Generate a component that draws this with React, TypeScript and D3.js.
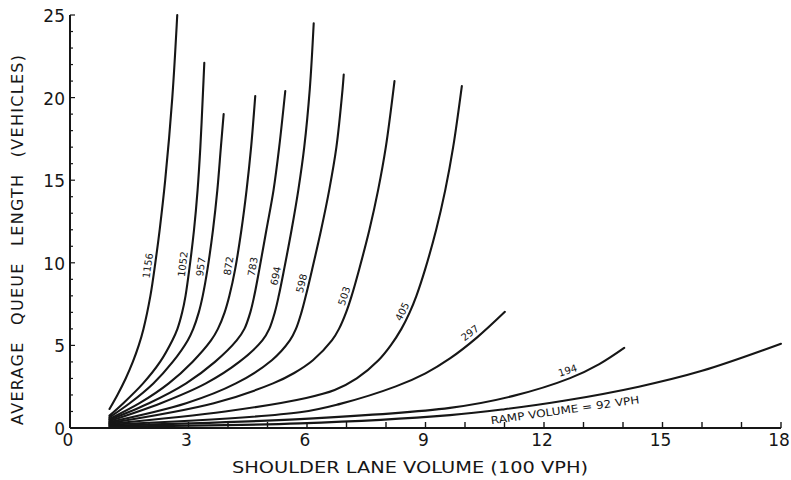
import React from "react";
import * as d3 from "d3";

// Shoulder lane volume (100 vph) vs. average queue length (vehicles), one curve per ramp volume
const xTickValues = [0, 3, 6, 9, 12, 15, 18];
const yTickValues = [0, 5, 10, 15, 20, 25];
const rampVolumes = [1156, 1052, 957, 872, 783, 694, 598, 503, 405, 297, 194, 92];

type Pt = [number, number];
const ramp1156: Pt[] = [[1.0, 1.15], [1.2, 2], [1.41, 3], [1.59, 4], [1.74, 5], [1.86, 6], [2.035, 8], [2.16, 10], [2.27, 12], [2.41, 15], [2.59, 20], [2.715, 25]];
const ramp1052: Pt[] = [[1.0, 0.75], [1.35, 1.5], [1.85, 2.7], [2.28, 4], [2.59, 5.3], [2.72, 6], [2.84, 7], [2.925, 8], [3.02, 9.6], [3.14, 12], [3.23, 14.4], [3.3, 17], [3.37, 20.5], [3.4, 22.1]];
const ramp957: Pt[] = [[1.0, 0.65], [1.51, 1.5], [2.11, 2.7], [2.6, 4], [2.98, 5.3], [3.12, 6], [3.26, 7], [3.36, 8], [3.48, 9.6], [3.62, 12], [3.73, 14.4], [3.82, 17], [3.89, 19]];
const ramp872: Pt[] = [[1.0, 0.55], [1.76, 1.5], [2.5, 2.7], [3.1, 4], [3.57, 5.3], [3.745, 6], [3.915, 7], [4.035, 8], [4.18, 9.6], [4.34, 12], [4.47, 14.4], [4.585, 17], [4.69, 20.1]];
const ramp783: Pt[] = [[1.0, 0.5], [2.0, 1.5], [2.94, 2.7], [3.67, 4], [4.22, 5.3], [4.415, 6], [4.565, 7], [4.665, 8], [4.793, 9.6], [4.973, 12], [5.153, 14.4], [5.296, 17], [5.45, 20.4]];
const ramp694: Pt[] = [[1.0, 0.42], [2.3, 1.5], [3.44, 2.7], [4.285, 4], [4.87, 5.3], [5.045, 6], [5.185, 7], [5.285, 8], [5.42, 9.6], [5.61, 12], [5.78, 14.4], [5.93, 17], [6.07, 20.5], [6.17, 24.5]];
const ramp598: Pt[] = [[1.0, 0.36], [2.94, 1.5], [4.2, 2.7], [5.11, 4.1], [5.566, 5.3], [5.72, 6], [5.86, 7], [5.97, 8], [6.13, 9.6], [6.358, 12], [6.562, 14.4], [6.744, 17], [6.9, 20.5], [6.93, 21.4]];
const ramp503: Pt[] = [[1.0, 0.3], [3.64, 1.5], [5.14, 2.7], [5.676, 3.33], [6.15, 4.1], [6.63, 5.3], [6.81, 6], [6.99, 7], [7.13, 8], [7.32, 9.6], [7.58, 12], [7.8, 14.4], [7.995, 17], [8.215, 21]];
const ramp405: Pt[] = [[1.0, 0.25], [3.93, 1.0], [5.98, 1.82], [6.7, 2.3], [7.26, 3], [7.81, 4.1], [8.12, 5], [8.39, 6], [8.6, 7], [8.77, 8], [8.99, 9.6], [9.27, 12], [9.5, 14.4], [9.7, 17], [9.92, 20.7]];
const ramp297: Pt[] = [[1.0, 0.2], [5.82, 0.95], [6.84, 1.46], [8.25, 2.52], [9.0, 3.31], [9.62, 4.21], [10.3, 5.47], [11.01, 7.03]];
const ramp194: Pt[] = [[1.0, 0.15], [5.82, 0.54], [9.62, 1.22], [11.2, 1.93], [12.66, 3.02], [13.4, 3.87], [14.03, 4.85]];
const ramp92: Pt[] = [[1.0, 0.09], [5.82, 0.28], [9.62, 0.78], [11.0, 1.135], [12.5, 1.645], [14.4, 2.5], [16.0, 3.46], [18.0, 5.1]];

const curves = [ramp1156, ramp1052, ramp957, ramp872, ramp783, ramp694, ramp598, ramp503, ramp405, ramp297, ramp194, ramp92];

// where along each curve (shoulder volume) its label sits, and on which side
const labelX = [2.145, 3.033, 3.486, 4.19, 4.8, 5.38, 6.036, 7.11, 8.57, 10.25, 12.66, 12.5];
const labelOffset = [7, 7, 7, 7, 7, 7, 7, 7, 7, 8, 8, -9];

const W = 791;
const H = 480;
const INK = "#161616";
const FONT = "'DejaVu Sans', 'Liberation Sans', sans-serif";

export default function App() {
  const x = d3.scaleLinear().domain([0, 18]).range([70, 781]);
  const y = d3.scaleLinear().domain([0, 25]).range([428, 15]);

  const line = d3
    .line<Pt>()
    .x((d) => x(d[0]))
    .y((d) => y(d[1]))
    .curve(d3.curveCatmullRom.alpha(0.5));

  const minorX = d3.range(1, 19);
  const minorY = d3.range(1, 26);

  const placeLabel = (pts: Pt[], xv: number, off: number) => {
    let i = 0;
    while (i < pts.length - 2 && pts[i + 1][0] < xv) i++;
    const [a, b] = [pts[i], pts[i + 1]];
    const t = (xv - a[0]) / (b[0] - a[0]);
    const px = x(a[0]) + t * (x(b[0]) - x(a[0]));
    const py = y(a[1]) + t * (y(b[1]) - y(a[1]));
    const dx = x(b[0]) - x(a[0]);
    const dy = y(b[1]) - y(a[1]);
    const len = Math.hypot(dx, dy);
    const nx = dy / len;
    const ny = -dx / len;
    return {
      cx: px + nx * off,
      cy: py + ny * off,
      angle: (Math.atan2(dy, dx) * 180) / Math.PI,
    };
  };

  return (
    <svg
      width={W}
      height={H}
      viewBox={`0 0 ${W} ${H}`}
      style={{ position: "absolute", left: 0, top: 0, background: "#fff" }}
    >
      <rect width={W} height={H} fill="#fff" />

      {/* axes */}
      <line x1={x(0)} x2={x(18)} y1={y(0)} y2={y(0)} stroke={INK} strokeWidth={2} />
      <line x1={x(0)} x2={x(0)} y1={y(0)} y2={y(25)} stroke={INK} strokeWidth={2} />

      {minorX.map((v) => (
        <line key={`tx${v}`} x1={x(v)} x2={x(v)} y1={y(0)} y2={y(0) - 6} stroke={INK} strokeWidth={1.4} />
      ))}
      {minorY.map((v) => (
        <line key={`ty${v}`} x1={x(0)} x2={x(0) + (v % 5 === 0 ? 5 : 3)} y1={y(v)} y2={y(v)} stroke={INK} strokeWidth={1.2} />
      ))}

      {xTickValues.map((v) => (
        <text key={`xl${v}`} x={x(v) - 2} y={y(0) + 12} textAnchor="middle" dominantBaseline="central" fontFamily={FONT} fontSize={17} fill={INK}>
          {v}
        </text>
      ))}
      {yTickValues.map((v) => (
        <text key={`yl${v}`} x={x(0) - 5} y={y(v) + 1} textAnchor="end" dominantBaseline="central" fontFamily={FONT} fontSize={17} fill={INK}>
          {v}
        </text>
      ))}

      {/* axis titles */}
      <text x={410} y={467} textAnchor="middle" dominantBaseline="central" fontFamily={FONT} fontSize={16} fill={INK} textLength={356} lengthAdjust="spacingAndGlyphs">
        SHOULDER LANE VOLUME (100 VPH)
      </text>
      <text
        transform={`translate(17, ${(55 + 425) / 2}) rotate(-90)`}
        textAnchor="middle"
        dominantBaseline="central"
        fontFamily={FONT}
        fontSize={16}
        fill={INK}
        textLength={370}
        lengthAdjust="spacing"
        wordSpacing={10}
      >
        AVERAGE QUEUE LENGTH (VEHICLES)
      </text>

      {/* starting edge at a shoulder volume of 100 vph */}
      <line x1={x(1)} x2={x(1)} y1={y(0)} y2={y(ramp1052[0][1])} stroke={INK} strokeWidth={1.6} />

      {curves.map((c, i) => (
        <path key={`c${i}`} d={line(c) ?? ""} fill="none" stroke={INK} strokeWidth={2.1} strokeLinecap="round" strokeLinejoin="round" />
      ))}

      {curves.map((c, i) => {
        const p = placeLabel(c, labelX[i], labelOffset[i]);
        const isRamp = i === curves.length - 1;
        const txt = isRamp ? `RAMP VOLUME = ${rampVolumes[i]} VPH` : `${rampVolumes[i]}`;
        return (
          <text
            key={`l${i}`}
            transform={`translate(${p.cx}, ${p.cy}) rotate(${p.angle})`}
            textAnchor="middle"
            dominantBaseline="central"
            fontFamily={FONT}
            fontSize={isRamp ? 10.5 : 10}
            fill={INK}
            {...(isRamp ? { textLength: 150, lengthAdjust: "spacingAndGlyphs" } : {})}
          >
            {txt}
          </text>
        );
      })}
    </svg>
  );
}
